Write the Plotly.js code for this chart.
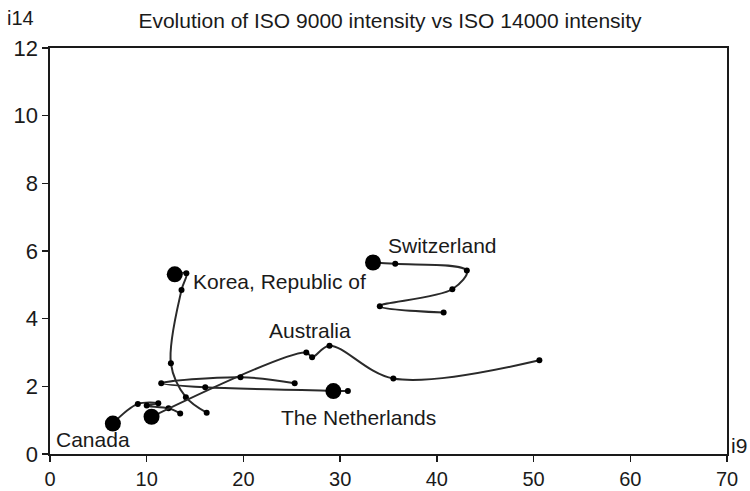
<!DOCTYPE html>
<html>
<head>
<meta charset="utf-8">
<script src="https://cdn.plot.ly/plotly-3.0.1.min.js"></script>
<style>html,body{margin:0;padding:0;background:#fff;}#chart{width:750px;height:491px;}</style>
</head>
<body>
<div id="chart"></div>
<script>
// Trajectories (last point = latest year, drawn with a large marker)
const countries = ["Canada", "Korea, Republic of", "Switzerland", "Australia", "The Netherlands"];

const canadaX = [13.46, 12.25, 10.0, 11.2, 9.08, 6.5];
const canadaY = [1.20, 1.35, 1.43, 1.50, 1.48, 0.90];

const koreaX = [16.2, 14.05, 12.5, 13.6, 14.1, 12.9];
const koreaY = [1.22, 1.68, 2.68, 4.85, 5.34, 5.31];

const switzerlandX = [40.7, 34.1, 41.6, 43.1, 35.7, 33.4];
const switzerlandY = [4.18, 4.37, 4.87, 5.42, 5.62, 5.66];

const australiaX = [50.6, 35.5, 28.9, 27.1, 26.5, 10.5];
const australiaY = [2.77, 2.23, 3.20, 2.86, 3.00, 1.10];

const netherlandsX = [25.3, 19.7, 11.5, 16.05, 30.8, 29.3];
const netherlandsY = [2.09, 2.27, 2.09, 1.97, 1.86, 1.86];

const xTicks = [0, 10, 20, 30, 40, 50, 60, 70];
const yTicks = [0, 2, 4, 6, 8, 10, 12];

const series = [
  [canadaX, canadaY],
  [koreaX, koreaY],
  [switzerlandX, switzerlandY],
  [australiaX, australiaY],
  [netherlandsX, netherlandsY]
];

const lineColor = "#2a2a2a";
const markColor = "#000000";

const traces = [];
series.forEach(function (s, i) {
  const n = s[0].length;
  const sizes = s[0].map(function (_, k) { return k === n - 1 ? 16 : 6; });
  traces.push({
    type: "scatter",
    mode: "lines+markers",
    name: countries[i],
    x: s[0],
    y: s[1],
    line: {color: lineColor, width: 2, shape: "spline", smoothing: 1},
    marker: {color: markColor, size: sizes, opacity: 1, line: {width: 0}},
    showlegend: false,
    hoverinfo: "skip"
  });
});

const fam = "Liberation Sans, Arial, sans-serif";
const labelFont = {family: fam, size: 21, color: "#1a1a1a"};
const annotations = [
  {x: 40.6, y: 6.15, text: "Switzerland", xanchor: "center", yanchor: "middle"},
  {x: 14.6, y: 5.11, text: "Korea, Republic of", xanchor: "left", yanchor: "middle"},
  {x: 26.9, y: 3.66, text: "Australia", xanchor: "center", yanchor: "middle"},
  {x: 31.9, y: 1.09, text: "The Netherlands", xanchor: "center", yanchor: "middle"},
  {x: 0.4, y: 0.44, text: "Canada", xanchor: "left", yanchor: "middle"}
].map(function (a) {
  return Object.assign({xref: "x", yref: "y", showarrow: false, font: labelFont}, a);
});
annotations.push({
  xref: "paper", yref: "paper", x: -0.067, y: 1.075, text: "i14",
  showarrow: false, xanchor: "left", yanchor: "middle", font: {family: fam, size: 20, color: "#1a1a1a"}
});
annotations.push({
  xref: "paper", yref: "paper", x: 1.003, y: 0.022, text: "i9",
  showarrow: false, xanchor: "left", yanchor: "middle", font: {family: fam, size: 21, color: "#1a1a1a"}
});

const axisCommon = {
  showgrid: false,
  zeroline: false,
  showline: true,
  linecolor: "#1a1a1a",
  linewidth: 1.6,
  mirror: true,
  ticks: "outside",
  ticklen: 6,
  tickwidth: 1.4,
  tickcolor: "#1a1a1a",
  tickfont: {family: fam, size: 20, color: "#1a1a1a"}
};

const layout = {
  width: 750,
  height: 491,
  margin: {l: 50, r: 23, t: 48, b: 37},
  paper_bgcolor: "#ffffff",
  plot_bgcolor: "#ffffff",
  title: {
    text: "Evolution of ISO 9000 intensity vs ISO 14000 intensity",
    font: {family: fam, size: 21, color: "#1a1a1a"},
    x: 0.52, xanchor: "center", y: 0.958, yanchor: "middle"
  },
  xaxis: Object.assign({range: [0, 70], tickvals: xTicks, ticktext: xTicks.map(String)}, axisCommon),
  yaxis: Object.assign({range: [0, 12], tickvals: yTicks, ticktext: yTicks.map(String),
    tickfont: {family: fam, size: 22, color: "#1a1a1a"}}, axisCommon, {tickfont: {family: fam, size: 22, color: "#1a1a1a"}}),
  annotations: annotations
};

Plotly.newPlot("chart", traces, layout, {displayModeBar: false, staticPlot: true});
</script>
</body>
</html>
